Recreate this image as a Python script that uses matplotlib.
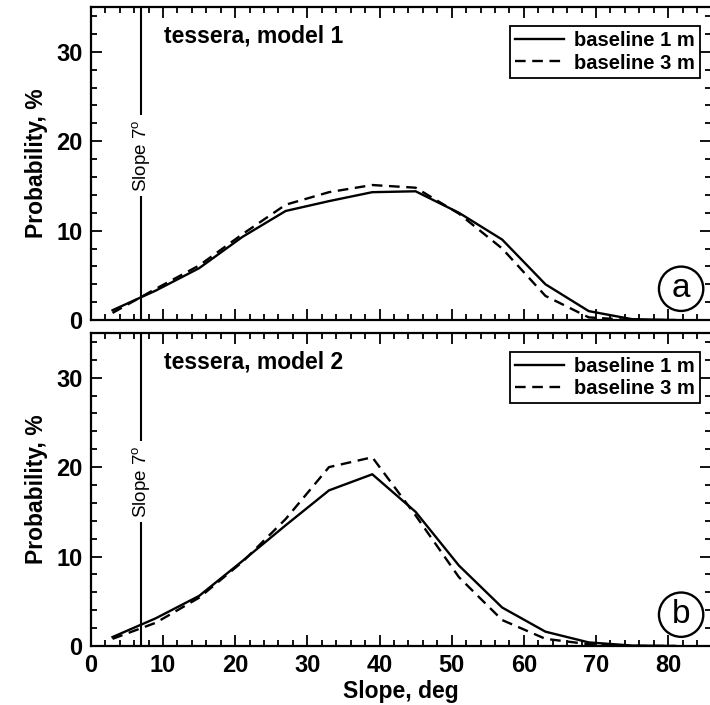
import matplotlib
matplotlib.use("Agg")
import matplotlib.pyplot as plt
from matplotlib.ticker import MultipleLocator

plt.rcParams['font.family'] = ['Liberation Sans', 'DejaVu Sans']

# slope bins, deg
slope = [3, 9, 15, 21, 27, 33, 39, 45, 51, 57, 63, 69, 75, 81]

# panel a - tessera, model 1
m1_base1 = [1.1, 3.3, 5.8, 9.3, 12.2, 13.3, 14.3, 14.4, 12.0, 9.0, 4.0, 1.0, 0.1, 0.0]
m1_base3 = [0.8, 3.5, 6.1, 9.6, 12.9, 14.3, 15.1, 14.8, 11.9, 8.0, 2.7, 0.3, 0.0, 0.0]

# panel b - tessera, model 2
m2_base1 = [1.0, 3.1, 5.6, 9.5, 13.5, 17.4, 19.2, 15.0, 9.0, 4.3, 1.6, 0.4, 0.05, 0.0]
m2_base3 = [0.8, 2.6, 5.4, 9.4, 14.2, 20.0, 21.1, 14.6, 7.7, 2.9, 0.8, 0.2, 0.0, 0.0]

titles = ['tessera, model 1', 'tessera, model 2']
letters = ['a', 'b']
series_labels = ['baseline 1 m', 'baseline 3 m']
slope_mark = 7

fig = plt.figure(figsize=(7.1, 7.05), dpi=100)
ax1 = fig.add_axes([0.128, 0.546, 0.874, 0.444])
ax2 = fig.add_axes([0.128, 0.0837, 0.874, 0.444])

data = [(m1_base1, m1_base3), (m2_base1, m2_base3)]

for ax, (s1, s3), title, letter in zip([ax1, ax2], data, titles, letters):
    ax.plot(slope, s1, color='black', lw=1.7, ls='-', label=series_labels[0])
    ax.plot(slope, s3, color='black', lw=1.7, ls=(0, (4.5, 2.8)), label=series_labels[1])

    ax.axvline(slope_mark, color='black', lw=1.5)
    ax.text(slope_mark, 18.4, 'Slope 7$^\\mathregular{o}$', rotation=90,
            ha='center', va='center', fontsize=13.5,
            bbox=dict(facecolor='white', edgecolor='none', pad=3))

    ax.text(10.2, 31.8, title, fontsize=16.5, fontweight='bold', va='center', ha='left')

    ax.text(81.8, 3.5, letter, fontsize=24, ha='center', va='center',
            bbox=dict(boxstyle='circle,pad=0.2', facecolor='white', edgecolor='black', lw=1.7))

    leg = ax.legend(loc='upper right', bbox_to_anchor=(0.981, 0.938), frameon=True,
                    fancybox=False, edgecolor='black', framealpha=1,
                    prop={'weight': 'bold', 'size': 14.5}, handlelength=2.4,
                    borderpad=0.25, labelspacing=0.15, handletextpad=0.5, borderaxespad=0)
    leg.get_frame().set_linewidth(1.3)

    ax.set_xlim(0, 86)
    ax.set_ylim(0, 35)
    ax.xaxis.set_major_locator(MultipleLocator(10))
    ax.xaxis.set_minor_locator(MultipleLocator(2))
    ax.yaxis.set_major_locator(MultipleLocator(10))
    ax.yaxis.set_minor_locator(MultipleLocator(2))
    ax.tick_params(which='both', direction='in', top=True, right=True, width=1.3)
    ax.tick_params(which='major', length=8, labelsize=17, pad=6)
    ax.tick_params(which='minor', length=4)
    for lab in ax.get_xticklabels() + ax.get_yticklabels():
        lab.set_fontweight('bold')
    for sp in ax.spines.values():
        sp.set_linewidth(1.6)
    ax.set_ylabel('Probability, %', fontsize=16.5, fontweight='bold', labelpad=6)

ax1.tick_params(labelbottom=False)
ax2.set_xlabel('Slope, deg', fontsize=16.5, fontweight='bold', labelpad=2)

fig.savefig('out.png', dpi=100)
